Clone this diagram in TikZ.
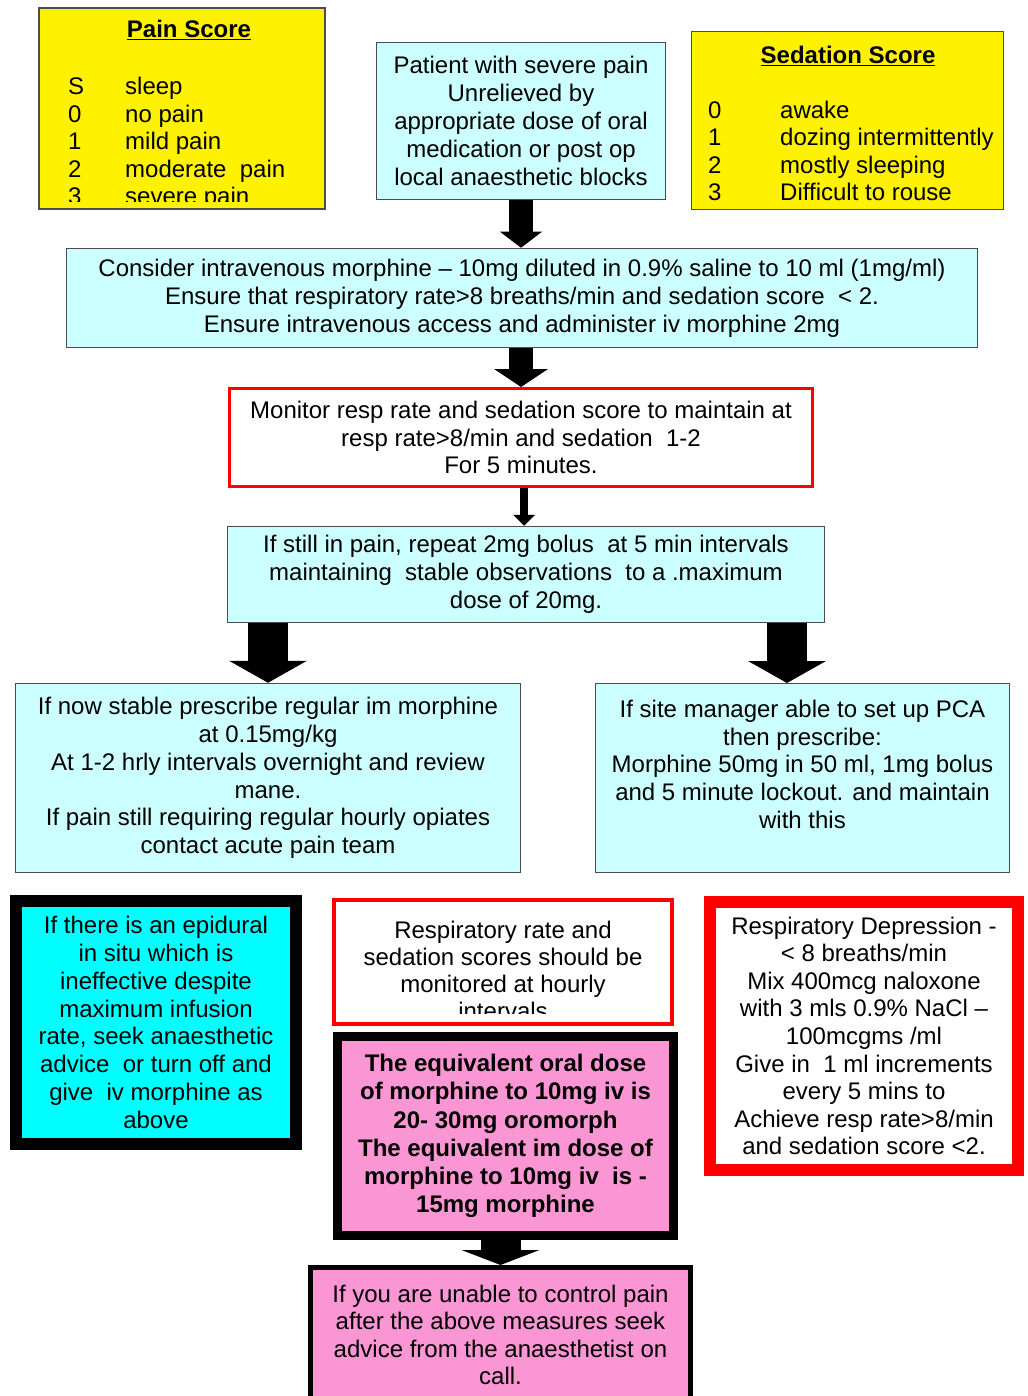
\documentclass[tikz,border=0pt]{standalone}
\usepackage{fontspec}
\setmainfont{Liberation Sans}
\usetikzlibrary{arrows.meta}
\definecolor{paleblue}{RGB}{204,255,255}
\definecolor{aqua}{RGB}{0,255,255}
\definecolor{pinkish}{RGB}{250,150,212}
\tikzset{
flowbox/.style={shape=rectangle, draw=black!70, line width=1.5pt, inner sep=0pt, align=center, font=\fontsize{24}{27.8}\selectfont},
infobox/.style={flowbox, fill=paleblue}, scorebox/.style={flowbox, fill=yellow},
redbox/.style={flowbox, draw=red, fill=white, line width=#1}, blackbox/.style={flowbox, draw=black, line width=#1},
scoreline/.style={anchor=mid west, inner sep=0pt, font=\fontsize{24}{28}\selectfont},
titlefont/.style={inner sep=0pt, font=\fontsize{24}{28}\selectfont\bfseries},
blockarrow/.style n args={3}{draw=black, line width=#1, -{Triangle[width=#2, length=#3, line width=0pt]}}}
\begin{document}
\begin{tikzpicture}[x=1pt, y=-1pt]
\clip (0,0) rectangle (1027,1396);
\node [scorebox, minimum width=286pt, minimum height=201pt] at (182,108.5) (pain) {};
\node [titlefont] at (189,30) (pain-title) {\underline{Pain Score}};
\begin{scope}
\clip (pain.north west) rectangle (330,202);
\foreach \score/\desc [count=\i] in {S/sleep, 0/no pain, 1/mild pain, 2/moderate\ \ pain, 3/severe pain}{
      \node [scoreline] at (68,{92+27.5*(\i-1)}) (pain-n\i) {\score};
      \node [scoreline] at (125,{92+27.5*(\i-1)}) (pain-d\i) {\desc};
}
\end{scope}
\node [scorebox, minimum width=312pt, minimum height=178pt] at (847.5,120.5) (sedation) {};
\node [titlefont] at (848,56) (sedation-title) {\underline{Sedation Score}};
\foreach \score/\desc [count=\i] in {0/awake, 1/dozing intermittently, 2/mostly sleeping, 3/Difficult to rouse}{
      \node [scoreline] at (708,{116+27.3*(\i-1)}) (sed-n\i) {\score};
      \node [scoreline] at (780,{116+27.3*(\i-1)}) (sed-d\i) {\desc};
}
\node [infobox, minimum width=289pt, minimum height=157pt] at (521,121) (patient) {Patient with severe pain\\Unrelieved by\\appropriate dose of oral\\medication or post op\\local anaesthetic blocks};
\node [infobox, minimum width=911pt, minimum height=99pt] at (522,298) (morphine) {Consider intravenous morphine -- 10mg diluted in 0.9\% saline to 10 ml (1mg/ml)\\Ensure that respiratory rate>8 breaths/min and sedation score \ < 2.\\Ensure intravenous access and administer iv morphine 2mg};
\node [redbox=3pt, minimum width=583pt, minimum height=98pt] at (521,437.5) (monitor) {Monitor resp rate and sedation score to maintain at\\resp rate>8/min and sedation \ 1-2\\For 5 minutes.};
\node [infobox, minimum width=597pt, minimum height=96pt] at (526,574.5) (repeat) {If still in pain, repeat 2mg bolus \ at 5 min intervals\\maintaining \ stable observations \ to a .maximum\\dose of 20mg.};
\node [infobox, minimum width=505pt, minimum height=189pt] at (268,778) (regular) {If now stable prescribe regular im morphine\\at 0.15mg/kg\\At 1-2 hrly intervals overnight and review\\mane.\\If pain still requiring regular hourly opiates\\contact acute pain team};
\node [infobox, minimum width=414pt, minimum height=189pt] at (802.5,778) (pca) {If site manager able to set up PCA\\then prescribe:\\Morphine 50mg in 50 ml, 1mg bolus\\and 5 minute lockout. and maintain\\with this\\\mbox{}};
\node [blackbox=12pt, fill=aqua, minimum width=280pt, minimum height=243pt] at (156,1022.5) (epidural) {If there is an epidural\\in situ which is\\ineffective despite\\maximum infusion\\rate, seek anaesthetic\\advice \ or turn off and\\give \ iv morphine as\\above};
\node [redbox=4pt, minimum width=338pt, minimum height=124pt] at (503,961.5) (hourly) {};
\begin{scope}
\clip (hourly.north west) rectangle (680,1013);
\node [flowbox, draw=none, font=\fontsize{24}{27}\selectfont] at (503,970) (hourly-text) {Respiratory rate and\\sedation scores should be\\monitored at hourly\\intervals};
\end{scope}
\node [blackbox=9pt, fill=pinkish, minimum width=336pt, minimum height=199pt, font=\fontsize{24}{28.2}\selectfont\bfseries] at (505.5,1136) (equivalent) {The equivalent oral dose\\of morphine to 10mg iv is\\20- 30mg oromorph\\The equivalent im dose of\\morphine to 10mg iv \ is -\\15mg morphine};
\node [blackbox=5pt, fill=pinkish, minimum width=380pt, minimum height=135pt, font=\fontsize{24}{27.6}\selectfont] at (500.5,1335) (anaesthetist) {If you are unable to control pain\\after the above measures seek\\advice from the anaesthetist on\\call.};
\node [redbox=12pt, minimum width=308pt, minimum height=268pt, font=\fontsize{24}{27.6}\selectfont] at (864,1036) (depression) {Respiratory Depression -\\< 8 breaths/min\\Mix 400mcg naloxone\\with 3 mls 0.9\% NaCl --\\100mcgms /ml\\Give in \ 1 ml increments\\every 5 mins to\\Achieve resp rate>8/min\\and sedation score <2.};
\coordinate (pca-in) at (787,683);
\draw [blockarrow={24pt}{42pt}{16pt}] (patient.south) -- (patient.south |- morphine.north);
\draw [blockarrow={24pt}{54pt}{18pt}] (monitor.north |- morphine.south) -- (monitor.north);
\draw [blockarrow={8pt}{22pt}{11pt}] ([xshift=3pt]monitor.south) -- ([xshift=3pt]monitor.south |- repeat.north);
\draw [blockarrow={40pt}{78pt}{22pt}] (regular.north |- repeat.south) -- (regular.north);
\draw [blockarrow={40pt}{78pt}{22pt}] (pca-in |- repeat.south) -- (pca-in);
\draw [blockarrow={40pt}{78pt}{15pt}] (anaesthetist.north |- equivalent.south) -- (anaesthetist.north);
\end{tikzpicture}
\end{document}
